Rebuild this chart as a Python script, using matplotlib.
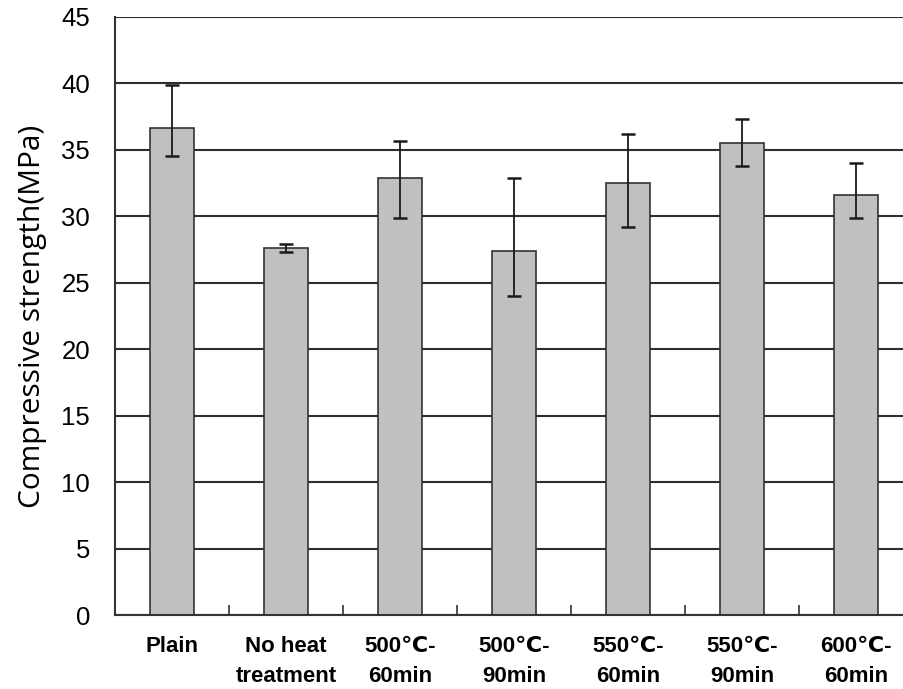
import numpy as np
import matplotlib.pyplot as plt

# data
categories = ['Plain', 'No heat\ntreatment', '500\u2103-\n60min', '500\u2103-\n90min',
              '550\u2103-\n60min', '550\u2103-\n90min', '600\u2103-\n60min']
strength = [36.65, 27.6, 32.9, 27.4, 32.5, 35.5, 31.6]
err_low = [34.55, 27.3, 29.9, 24.0, 29.2, 33.8, 29.9]
err_high = [39.9, 27.9, 35.7, 32.9, 36.2, 37.3, 34.0]

y_ticks = [0, 5, 10, 15, 20, 25, 30, 35, 40, 45]

fig = plt.figure(figsize=(9.04, 6.89), dpi=100)
ax = fig.add_axes([0.1272, 0.1074, 0.883, 0.868])

x = np.arange(len(categories))
strength = np.array(strength)
yerr = [strength - np.array(err_low), np.array(err_high) - strength]

# horizontal gridlines
for t in y_ticks:
    ax.axhline(t, color='#2e2e2e', lw=1.5, zorder=1)

ax.bar(x, strength, width=0.39, color='#c0c0c0', edgecolor='#333333', lw=1.2, zorder=2)
ax.errorbar(x, strength, yerr=yerr, fmt='none', ecolor='#1a1a1a', elinewidth=1.3,
            capsize=5, capthick=1.8, zorder=3)

ax.set_xlim(-0.5, len(categories) - 0.5)
ax.set_ylim(0, 45)
ax.set_yticks(y_ticks)
ax.tick_params(axis='y', length=0, pad=18, labelsize=18.5)
for lab in ax.get_yticklabels():
    lab.set_family(['Liberation Sans', 'DejaVu Sans'])

# x: labels at centres, small tick marks at boundaries
ax.set_xticks(x)
ax.set_xticklabels(categories, fontsize=16, fontweight='bold',
                   family=['Liberation Sans Narrow', 'Liberation Sans', 'DejaVu Sans'],
                   linespacing=1.55, va='top')
ax.tick_params(axis='x', length=0, pad=15)
ax.set_xticks(np.arange(0.5, len(categories) - 0.5), minor=True)
ax.tick_params(axis='x', which='minor', direction='in', length=7, width=1.2, color='#333333')

ax.set_ylabel('Compressive strength(MPa)', fontsize=21.5, family=['Open Sans', 'DejaVu Sans'],
              labelpad=10)

for side in ['top', 'right']:
    ax.spines[side].set_visible(False)
for side in ['left', 'bottom']:
    ax.spines[side].set_color('#333333')
    ax.spines[side].set_linewidth(1.5)

fig.savefig('out.png', dpi=100)
